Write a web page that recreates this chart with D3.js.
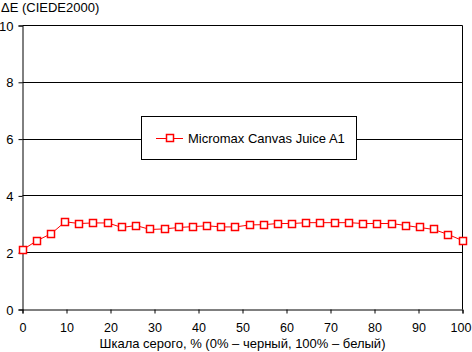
<!DOCTYPE html>
<html><head><meta charset="utf-8">
<script src="https://cdn.jsdelivr.net/npm/d3@7"></script>
<style>body{margin:0;background:#fff}svg{display:block}text{font-family:"Liberation Sans",Arial,sans-serif;font-size:13px;fill:#000}</style>
</head><body>
<svg id="c" width="472" height="352"></svg>
<script>
const xValues = [0,3.2,6.5,9.7,12.9,16.1,19.4,22.6,25.8,29.0,32.3,35.5,38.7,41.9,45.2,48.4,51.6,54.8,58.1,61.3,64.5,67.7,71.0,74.2,77.4,80.6,83.9,87.1,90.3,93.5,96.8,100];
const deltaE = [2.08,2.40,2.65,3.07,3.01,3.03,3.03,2.87,2.94,2.80,2.82,2.87,2.90,2.93,2.89,2.89,2.96,2.97,3.01,3.01,3.04,3.04,3.04,3.04,3.01,3.01,3.01,2.94,2.87,2.80,2.62,2.41];
const seriesName = "Micromax Canvas Juice A1";
const xTicks = [0,10,20,30,40,50,60,70,80,90,100];
const yTicks = [0,2,4,6,8,10];
const yTitle = "ΔE (CIEDE2000)";
const xTitle = "Шкала серого, % (0% – черный, 100% – белый)";

const svg = d3.select("#c");
const L=22.5, R=462.5, T=25, B=309;
const x = d3.scaleLinear().domain([0,100]).range([L,R]);
const y = d3.scaleLinear().domain([0,10]).range([B,T]);
const data = xValues.map((v,i)=>({x:v,y:deltaE[i]}));

// gridlines
svg.append("g").selectAll("line").data(yTicks.filter(d=>d>0)).join("line")
  .attr("x1",L).attr("x2",R).attr("y1",d=>Math.round(y(d))+0.5).attr("y2",d=>Math.round(y(d))+0.5)
  .attr("stroke","#000").attr("stroke-width",1);
// right border
svg.append("line").attr("x1",R).attr("x2",R).attr("y1",Math.round(y(10))+0.5).attr("y2",B+0.5).attr("stroke","#000");

// axes
const yAxis = d3.axisLeft(y).tickValues(yTicks).tickSize(4).tickPadding(5).tickFormat(d3.format("d"));
const gy = svg.append("g").attr("transform",`translate(${L},0.5)`).call(yAxis);
gy.select(".domain").attr("stroke","#000");
gy.selectAll("text").style("font-size","13px").attr("dy","0.35em");
const xAxis = d3.axisBottom(x).tickValues(xTicks).tickSize(4).tickPadding(10).tickFormat(d3.format("d"));
const gx = svg.append("g").attr("transform",`translate(0,${B+0.5})`).call(xAxis);
gx.select(".domain").attr("stroke","#000");
gx.selectAll("text").style("font-size","12.5px");
gx.selectAll(".tick").filter(d=>d===100).select("text").attr("dx","-2");

// line
svg.append("path").datum(data)
  .attr("d",d3.line().x(d=>x(d.x)).y(d=>y(d.y)))
  .attr("fill","none").attr("stroke","#ff0000").attr("stroke-width",1);
svg.append("g").selectAll("rect").data(data).join("rect")
  .attr("x",d=>Math.round(x(d.x))-3.5).attr("y",d=>Math.round(y(d.y))-3.5)
  .attr("width",7).attr("height",7)
  .attr("fill","#fff").attr("stroke","#ff0000").attr("stroke-width",1.5);

// titles
svg.append("text").attr("x",1).attr("y",12).text(yTitle);
svg.append("text").attr("x",(L+R)/2).attr("y",348).attr("text-anchor","middle").text(xTitle);

// legend
const lg = svg.append("g");
lg.append("rect").attr("x",141.5).attr("y",116.5).attr("width",215).attr("height",43)
  .attr("fill","#fff").attr("stroke","#000");
lg.append("line").attr("x1",156).attr("x2",183).attr("y1",138.5).attr("y2",138.5).attr("stroke","#ff0000");
lg.append("rect").attr("x",166.5).attr("y",134.5).attr("width",7).attr("height",7)
  .attr("fill","#fff").attr("stroke","#ff0000").attr("stroke-width",1.5);
lg.append("text").attr("x",188).attr("y",143).text(seriesName);
</script>
</body></html>
